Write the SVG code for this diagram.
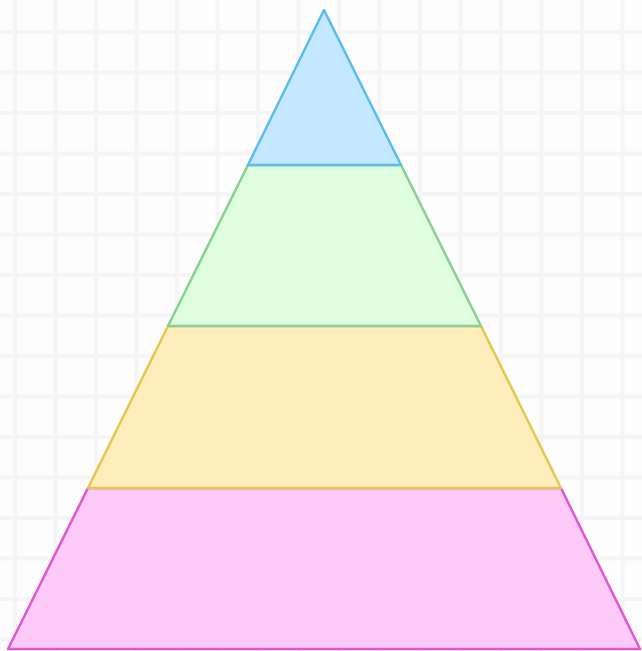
<svg xmlns="http://www.w3.org/2000/svg" width="642" height="651" viewBox="0 0 642 651">
<style>
.grid{stroke:#f5f5f5;stroke-width:4;fill:none;stroke-linecap:round}
.layer{stroke-width:2.5;stroke-linejoin:round}
</style>
<rect width="642" height="651" fill="#fdfdfd"/>
<g id="grid">
<path class="grid" d="M15 0V651M55.5 0V651M96 0V651M136.5 0V651M177 0V651M217.5 0V651M258 0V651M298.5 0V651M339 0V651M379.5 0V651M420 0V651M460.5 0V651M501 0V651M541.5 0V651M582 0V651M622.5 0V651"/>
<path class="grid" d="M0 32H642M0 72.5H642M0 113H642M0 153.5H642M0 194H642M0 234.5H642M0 275H642M0 315.5H642M0 356H642M0 396.5H642M0 437H642M0 477.5H642M0 518H642M0 558.5H642M0 599H642M0 639.5H642"/>
</g>
<g id="layer4">
<polygon class="layer" points="88,488 561,488 640,649 8,649" fill="#fdc9f6" stroke="#de58cf"/>
</g>
<g id="layer3">
<polygon class="layer" points="168,326 481,326 561,488 88,488" fill="#ffeebb" stroke="#e6c64b"/>
</g>
<g id="layer2">
<polygon class="layer" points="248,165 401,165 481,326 168,326" fill="#defedf" stroke="#88cf92"/>
</g>
<g id="layer1">
<polygon class="layer" points="324,10 401,165 248,165" fill="#c4e8ff" stroke="#5bbbee"/>
</g>
<g id="connectors"/>
</svg>
